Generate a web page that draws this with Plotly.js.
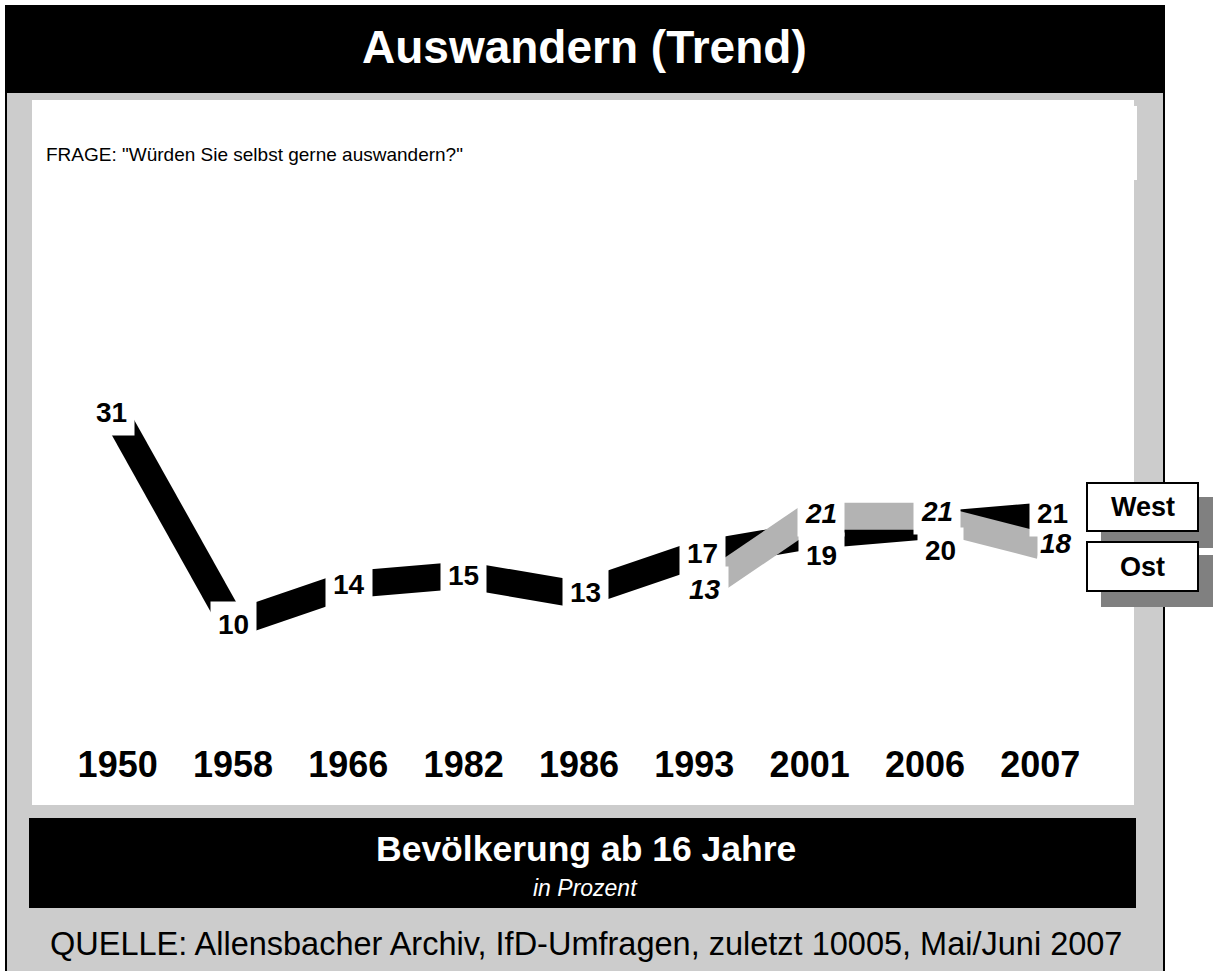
<!DOCTYPE html>
<html><head><meta charset="utf-8">
<script src="https://cdn.plot.ly/plotly-3.0.1.min.js"></script>
<style>html,body{margin:0;padding:0;background:#fff;}#chart{width:1213px;height:971px;}</style>
</head><body><div id="chart"></div>
<script>
// ---- data ----
const years = ['1950','1958','1966','1982','1986','1993','2001','2006','2007'];
const westValues = [31,10,14,15,13,17,19,20,21];
const ostYears = ['1993','2001','2006','2007'];
const ostValues = [13,21,21,18];
const seriesNames = ['West','Ost'];
const titleText = 'Auswandern (Trend)';
const questionText = 'FRAGE: "Würden Sie selbst gerne auswandern?"';
const baseText = 'Bevölkerung ab 16 Jahre';
const unitText = 'in Prozent';
const sourceText = 'QUELLE: Allensbacher Archiv, IfD-Umfragen, zuletzt 10005, Mai/Juni 2007';

// ---- style: label offsets in px [xshift, yshift] and box padding ----
const westLabelShift = [[-6,6],[0,0],[1,0],[0,0],[6,2],[8,2],[12,-20],[15,-25],[12,3]];
const westLabelPad = [7,7,7,7,7,7,7,7,7];
const ostLabelShift = [[11,5],[11,3],[12,5],[16,2]];
const ostLabelPad = [7,7,7,2];

const W=1213,H=971,L=60,R=115,T=110,B=231;
const PW=W-L-R, PH=H-T-B;
const px=x=>(x-L)/PW, py=y=>(H-B-y)/PH;
const FONT='Arial, "Liberation Sans", Helvetica, sans-serif';

const traces=[];
function segs(xs, ys, color){
  for(let i=0;i<xs.length-1;i++){
    traces.push({type:'scatter',mode:'lines',x:[xs[i],xs[i+1]],y:[ys[i],ys[i+1]],
      line:{color:color,width:27},hoverinfo:'skip',showlegend:false});
  }
}
segs(years, westValues, '#000000');
segs(ostYears, ostValues, '#b3b3b3');

function rectPx(x0,y0,x1,y1,fill,layer,line){
  return {type:'rect',xref:'paper',yref:'paper',x0:px(x0),x1:px(x1),y0:py(y1),y1:py(y0),
    fillcolor:fill,line:line||{width:0},layer:layer||'below'};
}
function linePx(x0,y0,x1,y1,color,w,layer){
  return {type:'line',xref:'paper',yref:'paper',x0:px(x0),x1:px(x1),y0:py(y0),y1:py(y1),
    line:{color:color,width:w},layer:layer||'below'};
}
const shapes=[
  rectPx(7,93,1163,975,'#cccccc'),
  rectPx(5,5,1165,93,'#000000'),
  linePx(6,5,6,975,'#000000',2),
  linePx(1164,5,1164,975,'#000000',2),
  rectPx(32,100,1134,805,'#ffffff'),
  rectPx(1133,106,1137,180,'#ffffff'),
  rectPx(29,818,1136,908,'#000000'),
  // legend
  rectPx(1101,497,1213,548,'#808080','above'),
  rectPx(1087,483,1198,531,'#ffffff','above',{color:'#000000',width:2}),
  rectPx(1101,555,1213,607,'#808080','above'),
  rectPx(1087,542,1198,591,'#ffffff','above',{color:'#000000',width:2})
];

const annotations=[
  {xref:'paper',yref:'paper',x:px(584),y:py(47),text:titleText,showarrow:false,
   font:{family:FONT,size:46,weight:'bold',color:'#ffffff'},xanchor:'center',yanchor:'middle'},
  {xref:'paper',yref:'paper',x:px(44),y:py(155),text:questionText,showarrow:false,
   font:{family:FONT,size:19,color:'#000000'},xanchor:'left',yanchor:'middle'},
  {xref:'paper',yref:'paper',x:px(586),y:py(849),text:baseText,showarrow:false,
   font:{family:FONT,size:35.5,weight:'bold',color:'#ffffff'},xanchor:'center',yanchor:'middle'},
  {xref:'paper',yref:'paper',x:px(585),y:py(888),text:unitText,showarrow:false,
   font:{family:FONT,size:23,style:'italic',color:'#ffffff'},xanchor:'center',yanchor:'middle'},
  {xref:'paper',yref:'paper',x:px(586),y:py(944),text:sourceText,showarrow:false,
   font:{family:FONT,size:32.5,color:'#000000'},xanchor:'center',yanchor:'middle'},
  {xref:'paper',yref:'paper',x:px(1142.5),y:py(507),text:seriesNames[0],showarrow:false,
   font:{family:FONT,size:27,weight:'bold',color:'#000000'},xanchor:'center',yanchor:'middle'},
  {xref:'paper',yref:'paper',x:px(1142.5),y:py(566.5),text:seriesNames[1],showarrow:false,
   font:{family:FONT,size:27,weight:'bold',color:'#000000'},xanchor:'center',yanchor:'middle'}
];
westValues.forEach((v,i)=>{
  annotations.push({xref:'x',yref:'y',x:years.indexOf(years[i]),y:v,text:String(v),showarrow:false,
    xshift:westLabelShift[i][0],yshift:westLabelShift[i][1],bgcolor:'#ffffff',borderpad:westLabelPad[i],
    font:{family:FONT,size:28,weight:'bold',color:'#000000'}});
});
ostValues.forEach((v,i)=>{
  annotations.push({xref:'x',yref:'y',x:years.indexOf(ostYears[i]),y:v,text:String(v),showarrow:false,
    xshift:ostLabelShift[i][0],yshift:ostLabelShift[i][1],bgcolor:'#ffffff',borderpad:ostLabelPad[i],
    font:{family:FONT,size:28,weight:'bold',style:'italic',color:'#000000'}});
});

const layout={
  width:W,height:H,margin:{l:L,r:R,t:T,b:B,pad:0},
  paper_bgcolor:'#ffffff',plot_bgcolor:'rgba(0,0,0,0)',
  showlegend:false,
  xaxis:{type:'category',categoryorder:'array',categoryarray:years,range:[-0.5,8.5],
    showgrid:false,zeroline:false,showline:false,ticks:'',fixedrange:true,
    tickfont:{family:FONT,size:36,weight:'bold',color:'#000000'}},
  yaxis:{range:[-1.82,62.4],visible:false,fixedrange:true},
  shapes:shapes,annotations:annotations,
  font:{family:FONT}
};
Plotly.newPlot('chart',traces,layout,{displayModeBar:false,staticPlot:true});
</script></body></html>
